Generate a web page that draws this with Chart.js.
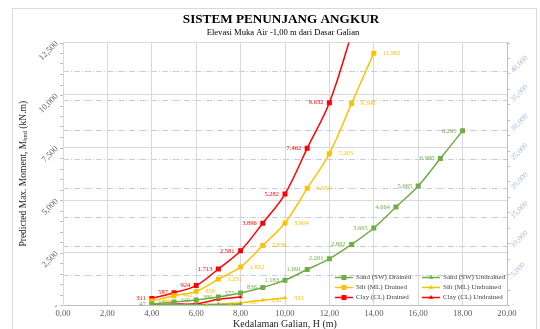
<!DOCTYPE html>
<html>
<head>
<meta charset="utf-8">
<script src="https://cdn.jsdelivr.net/npm/chart.js@4/dist/chart.umd.min.js"></script>
<style>
  html, body { margin: 0; padding: 0; background: #fff; }
</style>
</head>
<body>
<canvas id="chart" width="540" height="329"></canvas>
<script>
const SERIF = '"Liberation Serif", "Times New Roman", serif';

// kedalaman galian H (m) per series
const sandDepth = [4, 5, 6, 7, 8, 9, 10, 11, 12, 13, 14, 15, 16, 17, 18];
const siltDepth = [4, 5, 6, 7, 8, 9, 10, 11, 12, 13, 14];
const clayDepth = [4, 5, 6, 7, 8, 9, 10, 11, 12, 13];
const sandUDepth = [4, 5, 6, 7, 8];
const siltUDepth = [6, 7, 8, 9, 10];
const clayUDepth = [4, 5, 6, 7, 8];

// predicted max. moment (kN.m)
const sandDrained = [47, 141, 240, 380, 575, 836, 1183, 1691, 2201, 2882, 3665, 4664, 5665, 6980, 8295];
const siltDrained = [194, 442, 650, 1231, 1812, 2838, 3904, 5553, 7203, 9598, 11992];
const clayDrained = [311, 587, 924, 1713, 2581, 3896, 5282, 7462, 9632, 12900];
const sandUndrained = [4, 9, 15, 24, 36];
const siltUndrained = [8, 40, 107, 230, 333];
const clayUndrained = [10, 45, 60, 270, 380];

const seriesNames = [
  "Sand (SW) Drained", "Sand (SW) Undrained",
  "Silt (ML) Drained", "Silt (ML) Undrained",
  "Clay (CL) Drained", "Clay (CL) Undrained",
];

// tick labels
const xTickLabels = ["0,00", "2,00", "4,00", "6,00", "8,00", "10,00", "12,00", "14,00", "16,00", "18,00", "20,00"];
const leftTickLabels = ["-", "2,500", "5,000", "7,500", "10,000", "12,500"];
const rightTickLabels = ["-", "5,000", "10,000", "15,000", "20,000", "25,000", "30,000", "35,000", "40,000"];

const GREEN = "#70ad47", GOLD = "#ffc000", RED = "#ff0000";

function makeSeries(i, xs, ys, color, style, side) {
  return {
    label: seriesNames[i],
    data: xs.map((x, k) => ({ x: x, y: ys[k] })),
    borderColor: color,
    backgroundColor: color,
    pointStyle: style,
    pointRadius: style === "rect" ? 3.5 : 2.6,
    pointBorderWidth: 0,
    borderWidth: 1.5,
    tension: 0.35,
    labelSide: side,
    yAxisID: "y",
  };
}

const datasets = [
  makeSeries(0, sandDepth, sandDrained, GREEN, "rect", "left"),
  makeSeries(1, sandUDepth, sandUndrained, GREEN, "triangle", "none"),
  makeSeries(2, siltDepth, siltDrained, GOLD, "rect", "right"),
  makeSeries(3, siltUDepth, siltUndrained, GOLD, "triangle", "right"),
  makeSeries(4, clayDepth, clayDrained, RED, "rect", "left"),
  makeSeries(5, clayUDepth, clayUndrained, RED, "triangle", "none"),
];

function fmt(v) {
  return String(v).replace(/\B(?=(\d{3})+(?!\d))/g, ".");
}

// frame, titles, axis titles
const decorPlugin = {
  id: "decor",
  beforeDraw(chart) {
    const ctx = chart.ctx;
    ctx.save();
    ctx.fillStyle = "#fff";
    ctx.fillRect(0, 0, chart.width, chart.height);
    ctx.strokeStyle = "#d9d9d9";
    ctx.lineWidth = 1;
    ctx.strokeRect(12.5, 8.5, 524, 340);
    ctx.restore();
  },
  afterDraw(chart) {
    const ctx = chart.ctx;
    const area = chart.chartArea;
    ctx.save();
    ctx.fillStyle = "#000";
    ctx.textAlign = "center";
    ctx.textBaseline = "middle";
    ctx.font = "bold 13.2px " + SERIF;
    ctx.fillText("SISTEM PENUNJANG ANGKUR", 281, 20);
    ctx.font = "8.6px " + SERIF;
    ctx.fillText("Elevasi Muka Air -1,00 m dari Dasar Galian", 283, 33);

    ctx.fillStyle = "#262626";
    ctx.font = "10px " + SERIF;
    ctx.fillText("Kedalaman Galian, H (m)", (area.left + area.right) / 2, 324);

    // y title with subscript
    ctx.translate(23, (area.top + area.bottom) / 2);
    ctx.rotate(-Math.PI / 2);
    const a = "Predicted Max. Moment, M";
    const b = "bnd";
    const c = " (kN.m)";
    ctx.font = "9.5px " + SERIF;
    const wa = ctx.measureText(a).width, wc = ctx.measureText(c).width;
    ctx.font = "6.5px " + SERIF;
    const wb = ctx.measureText(b).width;
    let x = -(wa + wb + wc) / 2;
    ctx.textAlign = "left";
    ctx.font = "9.5px " + SERIF;
    ctx.fillText(a, x, 0);
    x += wa;
    ctx.font = "6.5px " + SERIF;
    ctx.fillText(b, x, 2.5);
    x += wb;
    ctx.font = "9.5px " + SERIF;
    ctx.fillText(c, x, 0);
    ctx.restore();

    // minor tick marks
    const yS = chart.scales.y, y1S = chart.scales.y1;
    ctx.save();
    ctx.strokeStyle = "#bfbfbf";
    ctx.lineWidth = 1;
    ctx.beginPath();
    for (let v = 0; v <= 12500; v += 500) {
      const py = Math.round(yS.getPixelForValue(v)) + 0.5;
      ctx.moveTo(area.left - 3, py);
      ctx.lineTo(area.left, py);
    }
    for (let v = 0; v <= 42500; v += 2500) {
      const py = Math.round(y1S.getPixelForValue(v)) + 0.5;
      ctx.moveTo(area.right, py);
      ctx.lineTo(area.right + 3, py);
    }
    ctx.stroke();
    ctx.restore();

    // legend inside plot
    ctx.save();
    ctx.font = "7px " + SERIF;
    ctx.textBaseline = "middle";
    ctx.textAlign = "left";
    chart.data.datasets.forEach((ds, i) => {
      const col = i % 2, row = Math.floor(i / 2);
      const lx = col === 0 ? 335 : 422;
      const ly = 277.5 + row * 10;
      ctx.strokeStyle = ds.borderColor;
      ctx.fillStyle = ds.borderColor;
      ctx.lineWidth = 1.5;
      ctx.beginPath();
      ctx.moveTo(lx, ly);
      ctx.lineTo(lx + 18, ly);
      ctx.stroke();
      Chart.helpers.drawPoint(ctx, { pointStyle: ds.pointStyle, radius: ds.pointRadius, borderWidth: 0, rotation: 0 }, lx + 9, ly);
      ctx.fillStyle = "#404040";
      ctx.fillText(ds.label, lx + 21, ly);
    });
    ctx.restore();
  },
  afterDatasetsDraw(chart) {
    const ctx = chart.ctx;
    const area = chart.chartArea;
    ctx.save();
    ctx.font = "6.5px " + SERIF;
    ctx.textBaseline = "middle";
    chart.data.datasets.forEach((ds, i) => {
      if (ds.labelSide === "none") return;
      const meta = chart.getDatasetMeta(i);
      ctx.fillStyle = ds.borderColor;
      meta.data.forEach((pt, k) => {
        if (pt.y < area.top || pt.y > area.bottom) return;
        const txt = fmt(ds.data[k].y);
        if (ds.labelSide === "left") {
          ctx.textAlign = "right";
          ctx.fillText(txt, pt.x - 6, pt.y);
        } else {
          ctx.textAlign = "left";
          ctx.fillText(txt, pt.x + 9, pt.y);
        }
      });
    });
    ctx.restore();
  },
};

new Chart(document.getElementById("chart"), {
  type: "line",
  data: { datasets: datasets },
  options: {
    responsive: false,
    animation: false,
    devicePixelRatio: 1,
    layout: { padding: { top: 42.5, left: 0, right: 0, bottom: 0 } },
    plugins: {
      legend: { display: false },
      tooltip: { enabled: false },
    },
    scales: {
      x: {
        type: "linear",
        min: 0,
        max: 20,
        ticks: {
          stepSize: 2,
          padding: 4,
          color: "#595959",
          font: { family: SERIF, size: 8.6 },
          maxRotation: 0,
          callback: (v, i) => xTickLabels[i],
        },
        grid: { color: "#d9d9d9", drawTicks: false },
        border: { color: "#bfbfbf" },
        afterFit: (s) => { s.height = 24; },
      },
      y: {
        position: "left",
        min: 0,
        max: 12500,
        ticks: {
          stepSize: 2500,
          padding: 6,
          minRotation: 45,
          maxRotation: 45,
          color: "#595959",
          font: { family: SERIF, size: 8.6 },
          callback: (v, i) => leftTickLabels[i],
        },
        grid: { color: "#d9d9d9", drawTicks: false },
        border: { color: "#d9d9d9" },
        afterFit: (s) => { s.width = 63; },
      },
      y1: {
        position: "right",
        min: 0,
        max: 42500,
        afterBuildTicks: (s) => { s.ticks = s.ticks.filter(t => t.value <= 40000); },
        ticks: {
          stepSize: 5000,
          padding: 5,
          minRotation: 45,
          maxRotation: 45,
          color: "#a9b8d9",
          font: { family: SERIF, size: 7.6 },
          callback: (v, i) => rightTickLabels[i],
        },
        grid: { color: "#c5cde0", drawTicks: false },
        border: { color: "#bfbfbf", dash: [6, 2, 1, 2] },
        afterFit: (s) => { s.width = 33; },
      },
    },
  },
  plugins: [decorPlugin],
});
</script>
</body>
</html>
